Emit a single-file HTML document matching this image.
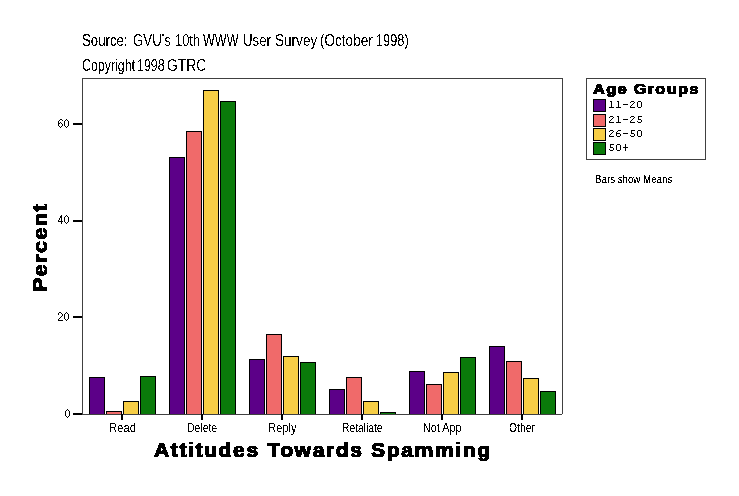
<!DOCTYPE html>
<html><head><meta charset="utf-8"><style>
html,body{margin:0;padding:0;background:#fff;width:739px;height:496px;overflow:hidden}
body{position:relative;color:#000}
.t{position:absolute;white-space:nowrap;line-height:1;transform-origin:0 0;}
svg{position:absolute;left:0;top:0}
</style></head><body>
<svg width="739" height="496" viewBox="0 0 739 496" shape-rendering="crispEdges">
<defs>
<filter id="c50" x="-5%" y="-20%" width="110%" height="140%"><feComponentTransfer><feFuncA type="discrete" tableValues="0 1"/></feComponentTransfer></filter>
<filter id="c40" x="-5%" y="-20%" width="110%" height="140%"><feComponentTransfer><feFuncA type="discrete" tableValues="0 0 1 1 1"/></feComponentTransfer></filter>
<filter id="c33" x="-5%" y="-20%" width="110%" height="140%"><feComponentTransfer><feFuncA type="discrete" tableValues="0 1 1"/></feComponentTransfer></filter>
<filter id="c25" x="-5%" y="-20%" width="110%" height="140%"><feComponentTransfer><feFuncA type="discrete" tableValues="0 1 1 1"/></feComponentTransfer></filter>
<filter id="c60" x="-5%" y="-20%" width="110%" height="140%"><feComponentTransfer><feFuncA type="discrete" tableValues="0 0 0 1 1"/></feComponentTransfer></filter>
</defs>
<g stroke="#000" stroke-width="1">
<rect x="89.5" y="377.5" width="15" height="37" fill="#5c0088"/>
<rect x="106.5" y="411.5" width="15" height="3" fill="#f06a6a"/>
<rect x="123.5" y="401.5" width="15" height="13" fill="#f7ce46"/>
<rect x="140.5" y="376.5" width="15" height="38" fill="#0a7a0a"/>
<rect x="169.5" y="157.5" width="15" height="257" fill="#5c0088"/>
<rect x="186.5" y="131.5" width="15" height="283" fill="#f06a6a"/>
<rect x="203.5" y="90.5" width="15" height="324" fill="#f7ce46"/>
<rect x="220.5" y="101.5" width="15" height="313" fill="#0a7a0a"/>
<rect x="249.5" y="359.5" width="15" height="55" fill="#5c0088"/>
<rect x="266.5" y="334.5" width="15" height="80" fill="#f06a6a"/>
<rect x="283.5" y="356.5" width="15" height="58" fill="#f7ce46"/>
<rect x="300.5" y="362.5" width="15" height="52" fill="#0a7a0a"/>
<rect x="329.5" y="389.5" width="15" height="25" fill="#5c0088"/>
<rect x="346.5" y="377.5" width="15" height="37" fill="#f06a6a"/>
<rect x="363.5" y="401.5" width="15" height="13" fill="#f7ce46"/>
<rect x="380.5" y="412.5" width="15" height="2" fill="#0a7a0a"/>
<rect x="409.5" y="371.5" width="15" height="43" fill="#5c0088"/>
<rect x="426.5" y="384.5" width="15" height="30" fill="#f06a6a"/>
<rect x="443.5" y="372.5" width="15" height="42" fill="#f7ce46"/>
<rect x="460.5" y="357.5" width="15" height="57" fill="#0a7a0a"/>
<rect x="489.5" y="346.5" width="15" height="68" fill="#5c0088"/>
<rect x="506.5" y="361.5" width="15" height="53" fill="#f06a6a"/>
<rect x="523.5" y="378.5" width="15" height="36" fill="#f7ce46"/>
<rect x="540.5" y="391.5" width="15" height="23" fill="#0a7a0a"/>
</g>
<path d="M82.5 78V415M82 78.5H563M562.5 78V414M82 414.5H562" stroke="#404040" stroke-width="1" fill="none"/>
<g fill="#000"><rect x="73" y="413" width="9" height="2"/><rect x="73" y="316" width="9" height="2"/><rect x="73" y="220" width="9" height="2"/><rect x="73" y="123" width="9" height="2"/><rect x="121" y="414" width="2" height="6"/><rect x="201" y="414" width="2" height="6"/><rect x="281" y="414" width="2" height="6"/><rect x="361" y="414" width="2" height="6"/><rect x="441" y="414" width="2" height="6"/><rect x="521" y="414" width="2" height="6"/></g>
<rect x="586.5" y="78.5" width="119" height="81" fill="none" stroke="#404040"/>
<g stroke="#000"><rect x="593.5" y="99.5" width="12" height="12" fill="#5c0088"/><rect x="593.5" y="114.5" width="12" height="12" fill="#f06a6a"/><rect x="593.5" y="128.5" width="12" height="12" fill="#f7ce46"/><rect x="593.5" y="142.5" width="12" height="12" fill="#0a7a0a"/></g>
<g fill="#000"><rect x="67" y="409" width="1" height="1"/><rect x="66" y="410" width="1" height="1"/><rect x="68" y="410" width="1" height="1"/><rect x="65" y="411" width="1" height="1"/><rect x="69" y="411" width="1" height="1"/><rect x="65" y="412" width="1" height="1"/><rect x="69" y="412" width="1" height="1"/><rect x="65" y="413" width="1" height="1"/><rect x="69" y="413" width="1" height="1"/><rect x="65" y="414" width="1" height="1"/><rect x="69" y="414" width="1" height="1"/><rect x="65" y="415" width="1" height="1"/><rect x="69" y="415" width="1" height="1"/><rect x="66" y="416" width="1" height="1"/><rect x="68" y="416" width="1" height="1"/><rect x="67" y="417" width="1" height="1"/><rect x="59" y="312" width="2" height="1"/><rect x="58" y="313" width="1" height="1"/><rect x="61" y="313" width="1" height="1"/><rect x="58" y="314" width="1" height="1"/><rect x="62" y="314" width="1" height="1"/><rect x="62" y="315" width="1" height="1"/><rect x="61" y="316" width="1" height="1"/><rect x="60" y="317" width="1" height="1"/><rect x="59" y="318" width="1" height="1"/><rect x="58" y="319" width="1" height="1"/><rect x="58" y="320" width="5" height="1"/><rect x="66" y="312" width="1" height="1"/><rect x="65" y="313" width="1" height="1"/><rect x="67" y="313" width="1" height="1"/><rect x="64" y="314" width="1" height="1"/><rect x="68" y="314" width="1" height="1"/><rect x="64" y="315" width="1" height="1"/><rect x="68" y="315" width="1" height="1"/><rect x="64" y="316" width="1" height="1"/><rect x="68" y="316" width="1" height="1"/><rect x="64" y="317" width="1" height="1"/><rect x="68" y="317" width="1" height="1"/><rect x="64" y="318" width="1" height="1"/><rect x="68" y="318" width="1" height="1"/><rect x="65" y="319" width="1" height="1"/><rect x="67" y="319" width="1" height="1"/><rect x="66" y="320" width="1" height="1"/><rect x="61" y="215" width="1" height="1"/><rect x="60" y="216" width="2" height="1"/><rect x="60" y="217" width="2" height="1"/><rect x="59" y="218" width="1" height="1"/><rect x="61" y="218" width="1" height="1"/><rect x="59" y="219" width="1" height="1"/><rect x="61" y="219" width="1" height="1"/><rect x="58" y="220" width="1" height="1"/><rect x="61" y="220" width="1" height="1"/><rect x="58" y="221" width="5" height="1"/><rect x="61" y="222" width="1" height="1"/><rect x="61" y="223" width="1" height="1"/><rect x="66" y="215" width="1" height="1"/><rect x="65" y="216" width="1" height="1"/><rect x="67" y="216" width="1" height="1"/><rect x="64" y="217" width="1" height="1"/><rect x="68" y="217" width="1" height="1"/><rect x="64" y="218" width="1" height="1"/><rect x="68" y="218" width="1" height="1"/><rect x="64" y="219" width="1" height="1"/><rect x="68" y="219" width="1" height="1"/><rect x="64" y="220" width="1" height="1"/><rect x="68" y="220" width="1" height="1"/><rect x="64" y="221" width="1" height="1"/><rect x="68" y="221" width="1" height="1"/><rect x="65" y="222" width="1" height="1"/><rect x="67" y="222" width="1" height="1"/><rect x="66" y="223" width="1" height="1"/><rect x="60" y="119" width="2" height="1"/><rect x="59" y="120" width="1" height="1"/><rect x="62" y="120" width="1" height="1"/><rect x="58" y="121" width="1" height="1"/><rect x="58" y="122" width="1" height="1"/><rect x="60" y="122" width="1" height="1"/><rect x="58" y="123" width="2" height="1"/><rect x="61" y="123" width="1" height="1"/><rect x="58" y="124" width="1" height="1"/><rect x="62" y="124" width="1" height="1"/><rect x="58" y="125" width="1" height="1"/><rect x="62" y="125" width="1" height="1"/><rect x="59" y="126" width="1" height="1"/><rect x="61" y="126" width="1" height="1"/><rect x="60" y="127" width="1" height="1"/><rect x="66" y="119" width="1" height="1"/><rect x="65" y="120" width="1" height="1"/><rect x="67" y="120" width="1" height="1"/><rect x="64" y="121" width="1" height="1"/><rect x="68" y="121" width="1" height="1"/><rect x="64" y="122" width="1" height="1"/><rect x="68" y="122" width="1" height="1"/><rect x="64" y="123" width="1" height="1"/><rect x="68" y="123" width="1" height="1"/><rect x="64" y="124" width="1" height="1"/><rect x="68" y="124" width="1" height="1"/><rect x="64" y="125" width="1" height="1"/><rect x="68" y="125" width="1" height="1"/><rect x="65" y="126" width="1" height="1"/><rect x="67" y="126" width="1" height="1"/><rect x="66" y="127" width="1" height="1"/></g><g fill="#000"><rect x="610" y="101" width="2" height="1"/><rect x="611" y="102" width="1" height="1"/><rect x="611" y="103" width="1" height="1"/><rect x="611" y="104" width="1" height="1"/><rect x="611" y="105" width="1" height="1"/><rect x="611" y="106" width="1" height="1"/><rect x="609" y="107" width="5" height="1"/><rect x="617" y="101" width="2" height="1"/><rect x="618" y="102" width="1" height="1"/><rect x="618" y="103" width="1" height="1"/><rect x="618" y="104" width="1" height="1"/><rect x="618" y="105" width="1" height="1"/><rect x="618" y="106" width="1" height="1"/><rect x="616" y="107" width="5" height="1"/><rect x="623" y="104" width="5" height="1"/><rect x="631" y="101" width="3" height="1"/><rect x="630" y="102" width="1" height="1"/><rect x="634" y="102" width="1" height="1"/><rect x="633" y="103" width="1" height="1"/><rect x="632" y="104" width="1" height="1"/><rect x="631" y="105" width="1" height="1"/><rect x="630" y="106" width="1" height="1"/><rect x="630" y="107" width="5" height="1"/><rect x="638" y="101" width="3" height="1"/><rect x="637" y="102" width="1" height="1"/><rect x="641" y="102" width="1" height="1"/><rect x="637" y="103" width="1" height="1"/><rect x="641" y="103" width="1" height="1"/><rect x="637" y="104" width="1" height="1"/><rect x="641" y="104" width="1" height="1"/><rect x="637" y="105" width="1" height="1"/><rect x="641" y="105" width="1" height="1"/><rect x="637" y="106" width="1" height="1"/><rect x="641" y="106" width="1" height="1"/><rect x="638" y="107" width="3" height="1"/><rect x="610" y="116" width="3" height="1"/><rect x="609" y="117" width="1" height="1"/><rect x="613" y="117" width="1" height="1"/><rect x="612" y="118" width="1" height="1"/><rect x="611" y="119" width="1" height="1"/><rect x="610" y="120" width="1" height="1"/><rect x="609" y="121" width="1" height="1"/><rect x="609" y="122" width="5" height="1"/><rect x="617" y="116" width="2" height="1"/><rect x="618" y="117" width="1" height="1"/><rect x="618" y="118" width="1" height="1"/><rect x="618" y="119" width="1" height="1"/><rect x="618" y="120" width="1" height="1"/><rect x="618" y="121" width="1" height="1"/><rect x="616" y="122" width="5" height="1"/><rect x="623" y="119" width="5" height="1"/><rect x="631" y="116" width="3" height="1"/><rect x="630" y="117" width="1" height="1"/><rect x="634" y="117" width="1" height="1"/><rect x="633" y="118" width="1" height="1"/><rect x="632" y="119" width="1" height="1"/><rect x="631" y="120" width="1" height="1"/><rect x="630" y="121" width="1" height="1"/><rect x="630" y="122" width="5" height="1"/><rect x="638" y="116" width="4" height="1"/><rect x="638" y="117" width="1" height="1"/><rect x="638" y="118" width="1" height="1"/><rect x="638" y="119" width="3" height="1"/><rect x="641" y="120" width="1" height="1"/><rect x="637" y="121" width="1" height="1"/><rect x="641" y="121" width="1" height="1"/><rect x="638" y="122" width="3" height="1"/><rect x="610" y="130" width="3" height="1"/><rect x="609" y="131" width="1" height="1"/><rect x="613" y="131" width="1" height="1"/><rect x="612" y="132" width="1" height="1"/><rect x="611" y="133" width="1" height="1"/><rect x="610" y="134" width="1" height="1"/><rect x="609" y="135" width="1" height="1"/><rect x="609" y="136" width="5" height="1"/><rect x="618" y="130" width="3" height="1"/><rect x="617" y="131" width="1" height="1"/><rect x="616" y="132" width="1" height="1"/><rect x="616" y="133" width="4" height="1"/><rect x="616" y="134" width="1" height="1"/><rect x="620" y="134" width="1" height="1"/><rect x="616" y="135" width="1" height="1"/><rect x="620" y="135" width="1" height="1"/><rect x="617" y="136" width="3" height="1"/><rect x="623" y="133" width="5" height="1"/><rect x="631" y="130" width="4" height="1"/><rect x="631" y="131" width="1" height="1"/><rect x="631" y="132" width="1" height="1"/><rect x="631" y="133" width="3" height="1"/><rect x="634" y="134" width="1" height="1"/><rect x="630" y="135" width="1" height="1"/><rect x="634" y="135" width="1" height="1"/><rect x="631" y="136" width="3" height="1"/><rect x="638" y="130" width="3" height="1"/><rect x="637" y="131" width="1" height="1"/><rect x="641" y="131" width="1" height="1"/><rect x="637" y="132" width="1" height="1"/><rect x="641" y="132" width="1" height="1"/><rect x="637" y="133" width="1" height="1"/><rect x="641" y="133" width="1" height="1"/><rect x="637" y="134" width="1" height="1"/><rect x="641" y="134" width="1" height="1"/><rect x="637" y="135" width="1" height="1"/><rect x="641" y="135" width="1" height="1"/><rect x="638" y="136" width="3" height="1"/><rect x="610" y="144" width="4" height="1"/><rect x="610" y="145" width="1" height="1"/><rect x="610" y="146" width="1" height="1"/><rect x="610" y="147" width="3" height="1"/><rect x="613" y="148" width="1" height="1"/><rect x="609" y="149" width="1" height="1"/><rect x="613" y="149" width="1" height="1"/><rect x="610" y="150" width="3" height="1"/><rect x="617" y="144" width="3" height="1"/><rect x="616" y="145" width="1" height="1"/><rect x="620" y="145" width="1" height="1"/><rect x="616" y="146" width="1" height="1"/><rect x="620" y="146" width="1" height="1"/><rect x="616" y="147" width="1" height="1"/><rect x="620" y="147" width="1" height="1"/><rect x="616" y="148" width="1" height="1"/><rect x="620" y="148" width="1" height="1"/><rect x="616" y="149" width="1" height="1"/><rect x="620" y="149" width="1" height="1"/><rect x="617" y="150" width="3" height="1"/><rect x="625" y="144" width="1" height="1"/><rect x="625" y="145" width="1" height="1"/><rect x="625" y="146" width="1" height="1"/><rect x="623" y="147" width="5" height="1"/><rect x="625" y="148" width="1" height="1"/><rect x="625" y="149" width="1" height="1"/><rect x="625" y="150" width="1" height="1"/></g>
</svg>
<div class="t" style="left:109px;top:421.0px;font-size:12px;font-family:'Liberation Sans',sans-serif;transform:scale(0.9375,1.08);filter:url(#c50);">Read</div>
<div class="t" style="left:187px;top:421.0px;font-size:12px;font-family:'Liberation Sans',sans-serif;transform:scale(0.87,1.08);filter:url(#c50);">Delete</div>
<div class="t" style="left:268px;top:421.0px;font-size:12px;font-family:'Liberation Sans',sans-serif;transform:scale(0.9346,1.08);filter:url(#c50);">Reply</div>
<div class="t" style="left:342px;top:421.0px;font-size:12px;font-family:'Liberation Sans',sans-serif;transform:scale(0.8561,1.08);filter:url(#c50);">Retaliate</div>
<div class="t" style="left:423px;top:421.0px;font-size:12px;font-family:'Liberation Sans',sans-serif;transform:scale(0.9,1.08);filter:url(#c50);">Not App</div>
<div class="t" style="left:509px;top:421.0px;font-size:12px;font-family:'Liberation Sans',sans-serif;transform:scale(0.8654,1.08);filter:url(#c50);">Other</div>
<div class="t" style="left:154px;top:440.0px;font-size:20px;font-family:'Liberation Sans',sans-serif;font-weight:bold;-webkit-text-stroke:1.1px #000;letter-spacing:1.5px;transform:scale(1.056,1);filter:url(#c50);">Attitudes Towards Spamming</div>
<div class="t" style="left:30px;top:292px;font-size:20px;font-family:'Liberation Sans',sans-serif;font-weight:bold;-webkit-text-stroke:1.1px #000;letter-spacing:1.5px;transform:rotate(-90deg) scale(1.0639,1);filter:url(#c50);">Percent</div>
<div class="t" style="left:593px;top:82.0px;font-size:14px;font-family:'Liberation Sans',sans-serif;font-weight:bold;-webkit-text-stroke:0.9px #000;letter-spacing:1.0px;transform:scale(1.1838,1);filter:url(#c50);">Age Groups</div>
<div class="t" style="left:595px;top:174.0px;font-size:11px;font-family:'Liberation Sans',sans-serif;transform:scale(0.884,1);filter:url(#c40);">Bars show Means</div>
<div class="t" style="left:82px;top:31.5px;font-size:15px;font-family:'Liberation Sans',sans-serif;transform:scale(0.8826,1.07);filter:url(#c50);">Source:</div>
<div class="t" style="left:133px;top:31.5px;font-size:15px;font-family:'Liberation Sans',sans-serif;transform:scale(0.8831,1.07);filter:url(#c50);">GVU's</div>
<div class="t" style="left:175px;top:31.5px;font-size:15px;font-family:'Liberation Sans',sans-serif;transform:scale(0.86,1.07);filter:url(#c50);">10th</div>
<div class="t" style="left:203px;top:31.5px;font-size:15px;font-family:'Liberation Sans',sans-serif;transform:scale(0.8344,1.07);filter:url(#c50);">WWW</div>
<div class="t" style="left:243px;top:31.5px;font-size:15px;font-family:'Liberation Sans',sans-serif;transform:scale(0.8804,1.07);filter:url(#c50);">User</div>
<div class="t" style="left:275px;top:31.5px;font-size:15px;font-family:'Liberation Sans',sans-serif;transform:scale(0.9047,1.07);filter:url(#c50);">Survey</div>
<div class="t" style="left:320px;top:31.5px;font-size:15px;font-family:'Liberation Sans',sans-serif;transform:scale(0.9034,1.07);filter:url(#c50);">(October</div>
<div class="t" style="left:376px;top:31.5px;font-size:15px;font-family:'Liberation Sans',sans-serif;transform:scale(0.8521,1.07);filter:url(#c50);">1998)</div>
<div class="t" style="left:82px;top:56.5px;font-size:15px;font-family:'Liberation Sans',sans-serif;transform:scale(0.8257,1.07);filter:url(#c50);">Copyright</div>
<div class="t" style="left:137px;top:56.5px;font-size:15px;font-family:'Liberation Sans',sans-serif;transform:scale(0.8256,1.07);filter:url(#c50);">1998</div>
<div class="t" style="left:167px;top:56.5px;font-size:15px;font-family:'Liberation Sans',sans-serif;transform:scale(0.9263,1.07);filter:url(#c50);">GTRC</div>
</body></html>
